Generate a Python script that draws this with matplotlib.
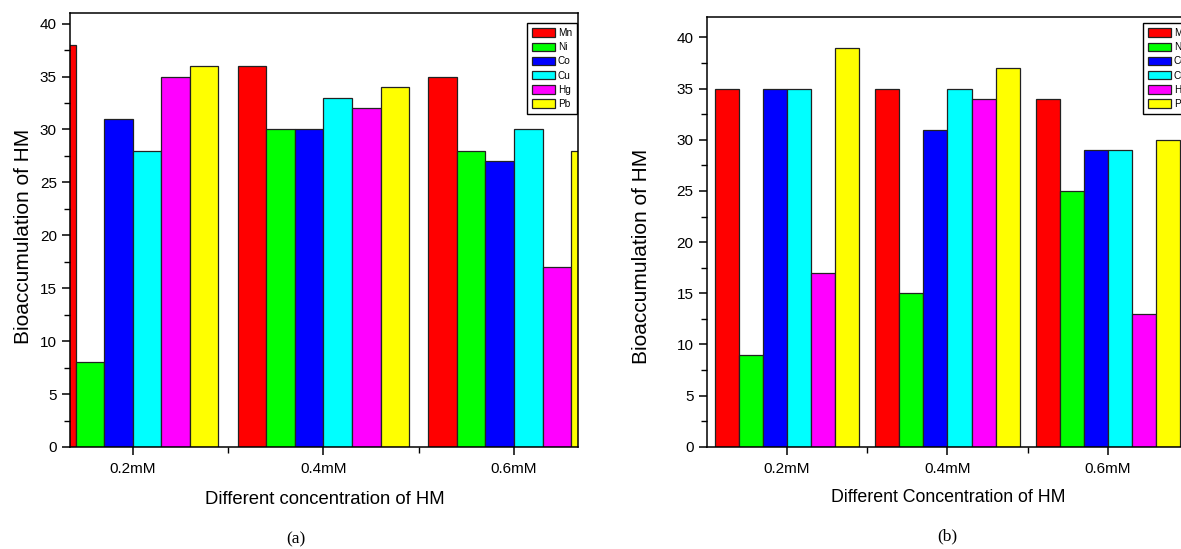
import numpy as np
import matplotlib
matplotlib.use("Agg")
import matplotlib.pyplot as plt
from matplotlib import font_manager
from matplotlib.ticker import MultipleLocator, FixedLocator

# ── data ───────────────────────────────────────────────────────────────────
concentrations = ["0.2mM", "0.4mM", "0.6mM"]
metals = ["Mn", "Ni", "Co", "Cu", "Hg", "Pb"]
colors = ["#ff0000", "#00ff00", "#0000ff", "#00ffff", "#ff00ff", "#ffff00"]

# panel (a)
mn_a = [38, 36, 35]
ni_a = [8, 30, 28]
co_a = [31, 30, 27]
cu_a = [28, 33, 30]
hg_a = [35, 32, 17]
pb_a = [36, 34, 28]

# panel (b)
mn_b = [35, 35, 34]
ni_b = [9, 15, 25]
co_b = [35, 31, 29]
cu_b = [35, 35, 29]
hg_b = [17, 34, 13]
pb_b = [39, 37, 30]

installed = {f.name for f in font_manager.fontManager.ttflist}
NARROW = "Liberation Sans Narrow" in installed
if NARROW:
    tick_fam = ["Liberation Sans Narrow", "Liberation Sans"]
    tick_fs, ylab_fs, leg_fs = 12.3, 17.5, 7.8
else:
    tick_fam = ["Liberation Sans"]
    tick_fs, ylab_fs, leg_fs = 11.0, 15.0, 7.2

plt.rcParams["font.family"] = ["Liberation Sans", "DejaVu Sans"]

W, H = 1181, 549
fig = plt.figure(figsize=(W / 100, H / 100), dpi=100)


def panel(rect, series, xlim, ylim, ylab_xy, leg_anchor, leg_loc):
    ax = fig.add_axes(rect)
    x = np.arange(1, len(concentrations) + 1)
    bw = 0.15
    for i, (vals, name, c) in enumerate(zip(series, metals, colors)):
        ax.bar(x + (i - 2.5) * bw, vals, width=bw, color=c,
               edgecolor="#222222", linewidth=0.9, label=name)

    ax.set_xlim(*xlim)
    ax.set_ylim(*ylim)
    ax.xaxis.set_major_locator(FixedLocator(x))
    ax.xaxis.set_minor_locator(FixedLocator(x[:-1] + 0.5))
    ax.set_xticklabels(concentrations)
    ax.yaxis.set_major_locator(MultipleLocator(5))
    ax.yaxis.set_minor_locator(MultipleLocator(2.5))
    ax.tick_params(which="major", length=6, width=1.1, direction="out",
                   labelsize=tick_fs)
    ax.tick_params(which="minor", length=4, width=1.0, direction="out")
    ax.tick_params(axis="x", which="major", pad=5)
    for lab in ax.get_xticklabels() + ax.get_yticklabels():
        lab.set_family(tick_fam)
    for sp in ax.spines.values():
        sp.set_linewidth(1.1)

    ax.set_ylabel("Bioaccumulation of HM", fontsize=ylab_fs, family=tick_fam)
    ax.yaxis.set_label_coords(*ylab_xy)
    ax.yaxis.label.set_va("center")

    ax.legend(loc=leg_loc, bbox_to_anchor=leg_anchor,
              bbox_transform=fig.transFigure, borderaxespad=0,
              fancybox=False, edgecolor="black", framealpha=1,
              prop={"family": tick_fam, "size": leg_fs},
              handlelength=2.3, handleheight=0.9, handletextpad=0.3,
              labelspacing=0.42, borderpad=0.5)
    ax.get_legend().get_frame().set_linewidth(1.0)
    return ax


ax_a = panel([70 / W, 102 / H, 508 / W, 434 / H],
             [mn_a, ni_a, co_a, cu_a, hg_a, pb_a],
             (0.671, 3.336), (0, 41), (-0.0925, 0.485),
             (577 / W, 1 - 23 / H), "upper right")
ax_b = panel([706.7 / W, 102.3 / H, 481.5 / W, 429.7 / H],
             [mn_b, ni_b, co_b, cu_b, hg_b, pb_b],
             (0.5, 3.5), (0, 42), (-0.1364, 0.444),
             (1143 / W, 1 - 23 / H), "upper left")

fig.text(324.5 / W, 1 - 500 / H, "Different concentration of HM",
         ha="center", va="center", fontsize=13.3)
fig.text(948.5 / W, 1 - 498 / H, "Different Concentration of HM",
         ha="center", va="center", fontsize=12.8)
fig.text(296 / W, 1 - 539 / H, "(a)", ha="center", va="center",
         fontsize=12.5, family="Liberation Serif")
fig.text(947.5 / W, 1 - 536 / H, "(b)", ha="center", va="center",
         fontsize=12.5, family="Liberation Serif")

fig.savefig("out.png", dpi=100)
